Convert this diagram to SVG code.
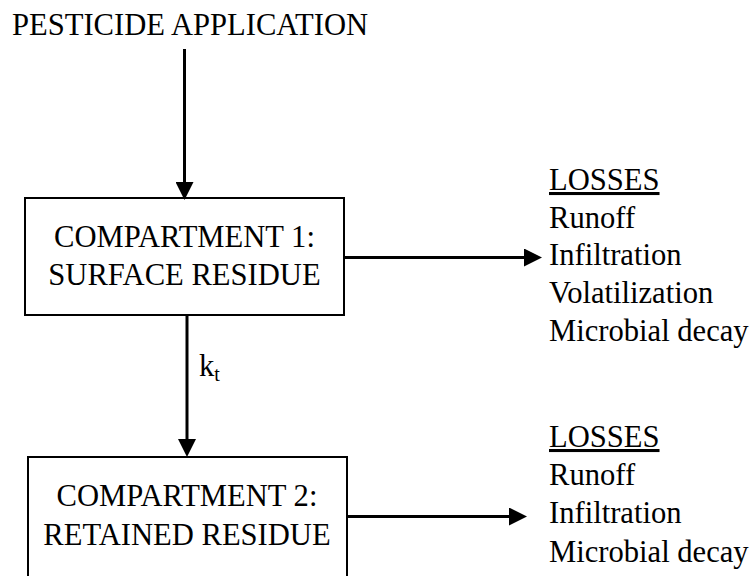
<svg xmlns="http://www.w3.org/2000/svg" width="752" height="576" viewBox="0 0 752 576">
<style>
.t{font-size:30.6px;fill:#000}
.c{text-anchor:middle}
.box{fill:#fff;stroke:#000;stroke-width:2}
.ln{stroke:#000;stroke-width:3;fill:none}
</style>
<defs>
<marker id="ah" markerUnits="userSpaceOnUse" markerWidth="18" markerHeight="18" viewBox="0 0 18 18" refX="0" refY="9" orient="auto">
<path d="M0,0 L18,9 L0,18 Z" fill="#000"/>
</marker>
</defs>
<rect width="752" height="576" fill="#fff"/>
<g font-family="'Liberation Serif', 'Times New Roman', 'DejaVu Serif', serif">
<g id="title"><text class="t" x="12" y="35">PESTICIDE APPLICATION</text></g>
<g id="compartment1">
<rect class="box" x="25" y="198" width="319" height="117"/>
<text class="t c" x="184.5" y="247">COMPARTMENT 1:</text>
<text class="t c" x="184.5" y="285">SURFACE RESIDUE</text>
</g>
<g id="compartment2">
<rect class="box" x="28" y="457" width="319" height="130"/>
<text class="t c" x="187" y="506">COMPARTMENT 2:</text>
<text class="t c" x="187" y="545">RETAINED RESIDUE</text>
</g>
<g id="losses1">
<text class="t" x="549" y="190" text-decoration="underline">LOSSES</text>
<text class="t" x="549" y="228">Runoff</text>
<text class="t" x="549" y="265">Infiltration</text>
<text class="t" x="549" y="303">Volatilization</text>
<text class="t" x="549" y="341">Microbial decay</text>
</g>
<g id="losses2">
<text class="t" x="549" y="447" text-decoration="underline">LOSSES</text>
<text class="t" x="549" y="485">Runoff</text>
<text class="t" x="549" y="523">Infiltration</text>
<text class="t" x="549" y="562">Microbial decay</text>
</g>
<g id="connectors">
<line class="ln" x1="184.5" y1="49" x2="184.5" y2="182" marker-end="url(#ah)"/>
<line class="ln" x1="187" y1="315" x2="187" y2="439" marker-end="url(#ah)"/>
<line class="ln" x1="344" y1="257.5" x2="524" y2="257.5" marker-end="url(#ah)"/>
<line class="ln" x1="347" y1="516.5" x2="509" y2="516.5" marker-end="url(#ah)"/>
<text class="t" x="199" y="376">k<tspan font-size="20" dy="5">t</tspan></text>
</g>
</g>
</svg>
